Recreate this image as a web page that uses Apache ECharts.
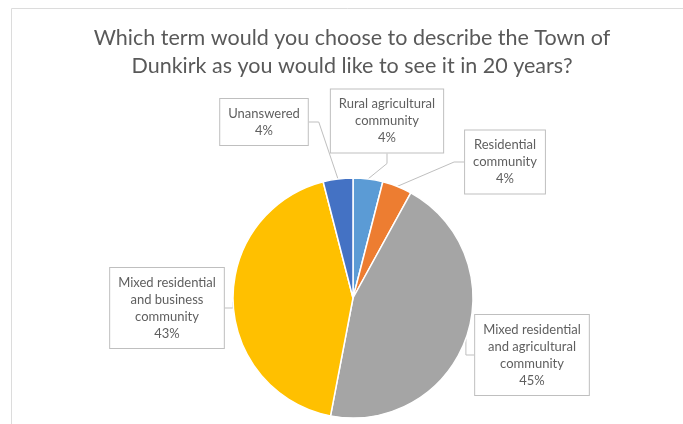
<!DOCTYPE html>
<html>
<head>
<meta charset="utf-8">
<script src="https://cdn.jsdelivr.net/npm/echarts@6/dist/echarts.min.js"></script>
<style>
  html, body { margin: 0; padding: 0; background: #fff; }
  #chart { width: 683px; height: 424px; }
</style>
</head>
<body>
<div id="chart"></div>
<script>
// Survey answers, clockwise from 12 o'clock
const categories = [
  'Rural agricultural\ncommunity',
  'Residential\ncommunity',
  'Mixed residential\nand agricultural\ncommunity',
  'Mixed residential\nand business\ncommunity',
  'Unanswered'
];
const shares = [4, 4, 45, 43, 4];

const chartTitle = 'Which term would you choose to describe the Town of\nDunkirk as you would like to see it in 20 years?';

const sliceColors = ['#5B9BD5', '#ED7D31', '#A5A5A5', '#FFC000', '#4472C4'];
// Callout box centres (px) for each slice label
const calloutCentres = [[387, 121], [505, 162], [532, 355], [167, 308], [264, 122]];

const chart = echarts.init(document.getElementById('chart'), null, { renderer: 'canvas' });

chart.setOption({
  backgroundColor: '#ffffff',
  animation: false,
  graphic: [{
    type: 'polyline',
    shape: { points: [[11.5, 424], [11.5, 8.5], [683, 8.5]] },
    style: { stroke: '#dcdcdc', lineWidth: 1, fill: null },
    silent: true
  }, {
    type: 'text',
    x: 352,
    y: 24,
    silent: true,
    style: {
      text: chartTitle,
      textAlign: 'center',
      textVerticalAlign: 'top',
      fontFamily: 'Lato',
      fontSize: 21.5,
      lineHeight: 28,
      fill: '#595959'
    }
  }],
  series: [{
    type: 'pie',
    center: [353, 298],
    radius: 120,
    startAngle: 90,
    clockwise: true,
    avoidLabelOverlap: false,
    itemStyle: { borderColor: '#ffffff', borderWidth: 1.5 },
    label: {
      show: true,
      position: 'outside',
      formatter: p => p.name + '\n' + p.value + '%',
      fontFamily: 'Lato',
      fontSize: 13,
      lineHeight: 17,
      color: '#5f5f5f',
      align: 'center',
      backgroundColor: '#ffffff',
      borderColor: '#bfbfbf',
      borderWidth: 1,
      padding: [6, 8, 6, 8]
    },
    labelLine: {
      show: true,
      length: 10,
      length2: 10,
      lineStyle: { color: '#bfbfbf', width: 1 }
    },
    labelLayout: params => {
      const c = calloutCentres[params.dataIndex];
      return { x: c[0], y: c[1], align: 'center', verticalAlign: 'middle' };
    },
    data: categories.map((name, i) => ({
      name: name,
      value: shares[i],
      itemStyle: { color: sliceColors[i] }
    }))
  }]
});
</script>
</body>
</html>
